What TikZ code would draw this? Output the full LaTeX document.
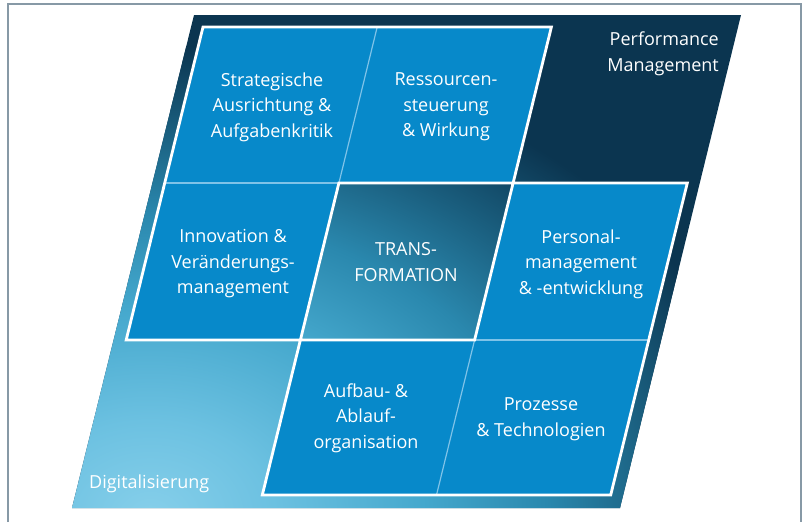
\documentclass[tikz,border=0pt]{standalone}
\usepackage{fontspec}
\setmainfont{Open Sans}
\definecolor{navy}{HTML}{0B3550}
\definecolor{glowA}{HTML}{86CFEA}
\definecolor{glowB}{HTML}{6CC1E1}
\definecolor{glowC}{HTML}{45A8CD}
\definecolor{glowD}{HTML}{2A88AE}
\definecolor{glowE}{HTML}{1A5E7E}
\definecolor{cellblue}{HTML}{0789CA}
\definecolor{thinline}{HTML}{7FC3E8}
\definecolor{framegrey}{HTML}{8799A6}
% the shaded path's bounding box spans radius 25bp of the shading
\pgfdeclareradialshading{glow}{\pgfpoint{0bp}{0bp}}{%
  color(0bp)=(glowA); color(5bp)=(glowB); color(11bp)=(glowC);
  color(16bp)=(glowD); color(20.5bp)=(glowE); color(25bp)=(navy);
  color(50bp)=(navy)}
\begin{document}
\begin{tikzpicture}[x=1pt,y=-1pt,
  frameline/.style={draw=framegrey,line width=2pt},
  boldedge/.style={draw=white,line width=2.8pt,line join=miter},
  thinedge/.style={draw=thinline,line width=1.2pt},
  label/.style={text=white,inner sep=0pt,align=center,
    font=\fontsize{18}{25.5}\selectfont}]
\useasboundingbox (0,0) rectangle (810,522);

% outer frame, open at the bottom
\draw[frameline] (8,522) -- (8,3.5) -- (801,3.5) -- (801,522);

% slanted lattice: columns c0..c3, rows r0..r3
\coordinate (c0r0) at (203.0,27);  \coordinate (c1r0) at (377.2,27);
\coordinate (c2r0) at (551.4,27);  \coordinate (c3r0) at (725.6,27);
\coordinate (c0r1) at (164.7,183); \coordinate (c1r1) at (338.9,183);
\coordinate (c2r1) at (513.1,183); \coordinate (c3r1) at (687.3,183);
\coordinate (c0r2) at (126.2,340); \coordinate (c1r2) at (300.4,340);
\coordinate (c2r2) at (474.6,340); \coordinate (c3r2) at (648.8,340);
\coordinate (c0r3) at (88.1,495);  \coordinate (c1r3) at (262.3,495);
\coordinate (c2r3) at (436.5,495); \coordinate (c3r3) at (610.7,495);

% background parallelogram with its glow
\coordinate (bgTL) at (194,15);  \coordinate (bgTR) at (741,15);
\coordinate (bgBR) at (620,508); \coordinate (bgBL) at (72,508);
\fill[navy] (bgTL) -- (bgTR) -- (bgBR) -- (bgBL) -- cycle;
\begin{scope}
  \clip (bgTL) -- (bgTR) -- (bgBR) -- (bgBL) -- cycle;
  \shade[shading=glow] (150,515) ellipse [x radius=620, y radius=470];
\end{scope}

% blue cells: the stepped block, with the centre cell left open
\fill[cellblue,even odd rule]
  (c0r0) -- (c2r0) -- (c2r1) -- (c3r1) -- (c3r3) -- (c1r3) -- (c1r2)
  -- (c0r2) -- cycle
  (c1r1) -- (c2r1) -- (c2r2) -- (c1r2) -- cycle;

% thin inner dividers
\draw[thinedge] (c1r0) -- (c1r1);
\draw[thinedge] (c0r1) -- (c1r1);
\draw[thinedge] (c2r2) -- (c3r2);
\draw[thinedge] (c2r2) -- (c2r3);

% bold white outlines
\draw[boldedge] (c0r0) -- (c2r0) -- (c2r1) -- (c3r1) -- (c3r3) -- (c1r3)
  -- (c1r2) -- (c0r2) -- cycle;
\draw[boldedge] (c1r1) -- (c2r1) -- (c2r2) -- (c1r2) -- cycle;

% labels
\node[label] (strat) at (272,107) {Strategische\\Ausrichtung \&\\Aufgabenkritik};
\node[label] (ress)  at (446,107) {Ressourcen-\\steuerung\\\& Wirkung};
\node[label] (innov) at (233,264) {Innovation \&\\Veränderungs-\\management};
\node[label] (trans) at (406,262) {TRANS-\\FORMATION};
\node[label] (pers)  at (581,264) {Personal-\\management\\\& -entwicklung};
\node[label] (aufb)  at (366,418) {Aufbau- \&\\Ablauf-\\organisation};
\node[label] (proz)  at (541,419) {Prozesse\\\& Technologien};
\node[label,anchor=east,align=right] (perf) at (719,54) {Performance\\Management};
\node[label,anchor=base west] (digi) at (89,488) {Digitalisierung};
\end{tikzpicture}
\end{document}
